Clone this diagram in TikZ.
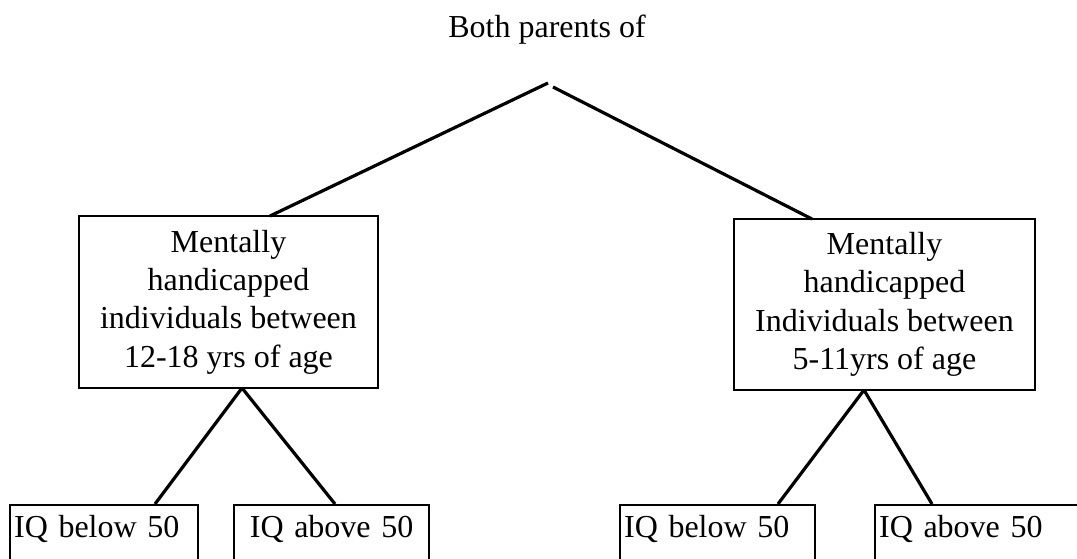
\documentclass[tikz,border=0pt]{standalone}
\usepackage{fontspec}
\setmainfont{Liberation Serif}
\begin{document}
\begin{tikzpicture}[x=1pt,y=-1pt,
  txt/.style={font=\fontsize{32}{38.4}\selectfont},
  midbox/.style={txt, draw, line width=2.2pt, rectangle, inner sep=0pt, align=center},
  leaf/.style={txt, draw, line width=2.2pt, rectangle, anchor=north west,
    inner xsep=4pt, inner ysep=10pt, text height=22pt, text depth=50pt},
  link/.style={line width=3.2pt}]
\useasboundingbox (0,0) rectangle (1077,558);
\clip (0,0) rectangle (1077,558);

\node[txt, anchor=base] (title) at (547,37) {Both parents of};

\node[midbox, minimum width=299pt, minimum height=172pt] (L) at (228.5,302)
  {Mentally\\handicapped\\individuals between\\12-18 yrs of age};
\node[midbox, minimum width=301pt, minimum height=171pt] (R) at (884.5,304.5)
  {Mentally\\handicapped\\Individuals between\\5-11yrs of age};

\node[leaf, text width=180pt, align=left] (LL) at (9,504) {IQ below 50};
\node[leaf, text width=187pt, align=center] (LR) at (233,504) {IQ above 50};
\node[leaf, text width=187pt, align=left] (RL) at (619,504) {IQ below 50};
\node[leaf, text width=230pt, align=left] (RR) at (874,504) {IQ above 50};

\coordinate (apexL) at (548,83);
\coordinate (apexR) at (553,87);
\coordinate (Ltop) at (270,216);
\coordinate (Rtop) at (812,219);
\coordinate (Lj) at (242,388);
\coordinate (Rj) at (864,390);
\coordinate (LLt) at (155,504);
\coordinate (LRt) at (335,504);
\coordinate (RLt) at (778,504);
\coordinate (RRt) at (932,504);

\draw[link] (apexL) -- (Ltop);
\draw[link] (apexR) -- (Rtop);
\draw[link] (Lj) -- (LLt);
\draw[link] (Lj) -- (LRt);
\draw[link] (Rj) -- (RLt);
\draw[link] (Rj) -- (RRt);
\end{tikzpicture}
\end{document}
